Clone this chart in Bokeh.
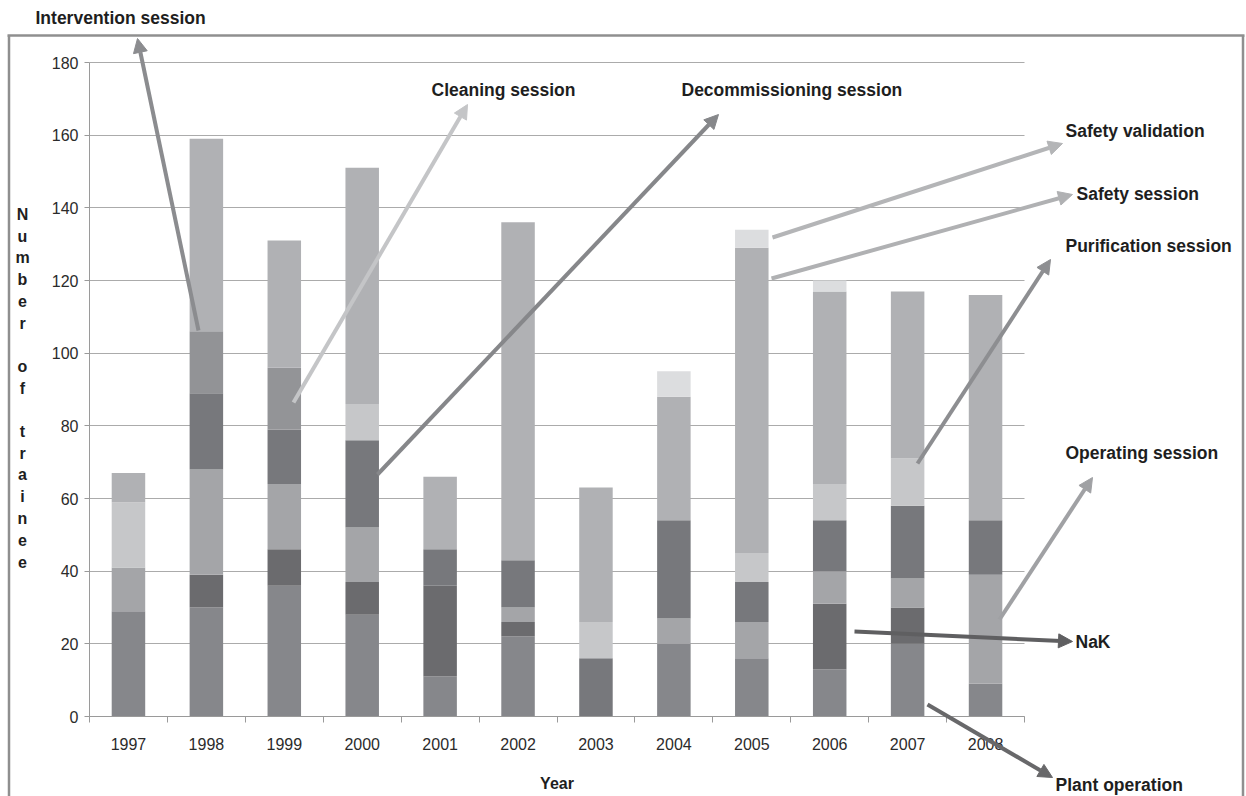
from bokeh.plotting import figure
from bokeh.models import (ColumnDataSource, Range1d, FixedTicker, Label, Arrow,
                          NormalHead, LinearAxis, Grid)
from bokeh.embed import file_html
from bokeh.resources import INLINE

# ---------------- data ----------------
years = ["1997", "1998", "1999", "2000", "2001", "2002",
         "2003", "2004", "2005", "2006", "2007", "2008"]
plant_operation = [29, 30, 36, 28, 11, 22, 0, 20, 16, 13, 20, 9]
nak = [0, 9, 10, 9, 25, 4, 0, 0, 0, 18, 10, 0]
operating_session = [12, 29, 18, 15, 0, 4, 0, 7, 10, 9, 8, 30]
decommissioning_session = [0, 21, 15, 24, 10, 13, 16, 27, 11, 14, 20, 15]
intervention_session = [0, 17, 0, 0, 0, 0, 0, 0, 0, 0, 0, 0]
cleaning_session = [0, 0, 17, 0, 0, 0, 0, 0, 0, 0, 0, 0]
purification_session = [18, 0, 0, 10, 0, 0, 10, 0, 8, 10, 13, 0]
safety_session = [8, 53, 35, 65, 20, 93, 37, 34, 84, 53, 46, 62]
safety_validation = [0, 0, 0, 0, 0, 0, 0, 7, 5, 3, 0, 0]

series_names = ["Plant operation", "NaK", "Operating session",
                "Decommissioning session", "Intervention session",
                "Cleaning session", "Purification session",
                "Safety session", "Safety validation"]
series_values = [plant_operation, nak, operating_session,
                 decommissioning_session, intervention_session,
                 cleaning_session, purification_session,
                 safety_session, safety_validation]
series_colors = ["#86878b", "#6b6b6e", "#a4a5a8", "#77787c", "#929396",
                 "#939497", "#c6c7c9", "#b0b1b4", "#dcdddf"]
y_ticks = [0, 20, 40, 60, 80, 100, 120, 140, 160, 180]
y_axis_letters = ["N", "u", "m", "b", "e", "r", "", "o", "f", "",
                  "t", "r", "a", "i", "n", "e", "e"]

# ---------------- layout ----------------
W, H = 1246, 796
FL, FR, FT, FB = 89, 1024, 62, 716          # bar area on the page (px)
XA, XB = 0.5, len(years) + 0.5              # category span
YA, YB = 0, 180                             # value span
SX = (XB - XA) / (FR - FL)                  # data per px
SY = (YB - YA) / (FB - FT)
X0, X1 = XA - FL * SX, XB + (W - FR) * SX   # canvas-wide ranges
Y0, Y1 = YA - (H - FB) * SY, YB + FT * SY
FONT = "Liberation Sans"
TXT = "#1e1e1e"
AX = "#9a9a9a"


def dx(px):
    return X0 + px * SX


def dy(py):
    return Y1 - py * SY


p = figure(width=W, height=H, x_range=Range1d(X0, X1), y_range=Range1d(Y0, Y1),
           output_backend="svg", toolbar_location=None, tools="", title=None,
           x_axis_location=None, y_axis_location=None, min_border=0)
p.outline_line_color = None
p.background_fill_color = "white"
p.border_fill_color = "white"
p.grid.visible = False

# gridlines limited to the bar area
gkw = dict(dimension=1, ticker=FixedTicker(ticks=y_ticks, minor_ticks=[]),
           grid_line_color="#ababab", grid_line_width=1)
if "cross_bounds" in Grid.properties():
    p.add_layout(Grid(cross_bounds=(XA, XB), **gkw))

data = {"x": list(range(1, len(years) + 1))}
for name, vals in zip(series_names, series_values):
    data[name] = vals
source = ColumnDataSource(data)
p.vbar_stack(series_names, x="x", width=0.43, source=source,
             fill_color=series_colors, line_color=None)

# axes
xa = LinearAxis(fixed_location=YA, bounds=(XA, XB))
xa.ticker = FixedTicker(ticks=list(range(1, len(years) + 1)),
                        minor_ticks=[i + 0.5 for i in range(len(years) + 1)])
xa.major_label_overrides = {i + 1: y for i, y in enumerate(years)}
xa.axis_line_color = AX
xa.major_tick_out = 0
xa.major_tick_in = 0
xa.minor_tick_out = 6
xa.minor_tick_in = 0
xa.minor_tick_line_color = AX
xa.major_label_standoff = 15
xa.major_label_text_font = FONT
xa.major_label_text_font_size = "16px"
xa.major_label_text_color = "#2b2b2b"
p.add_layout(xa, "below")

ya = LinearAxis(fixed_location=XA, bounds=(YA, YB))
ya.ticker = FixedTicker(ticks=y_ticks, minor_ticks=[])
ya.axis_line_color = AX
ya.major_tick_line_color = AX
ya.major_tick_out = 5
ya.major_tick_in = 0
ya.minor_tick_line_color = None
ya.major_label_standoff = 6
ya.major_label_text_font = FONT
ya.major_label_text_font_size = "16px"
ya.major_label_text_color = "#2b2b2b"
p.add_layout(ya, "left")

# outer frame of the figure (page px)
frame_lines = [((8.5, 35), (8.5, 800)), ((7, 35), (1244, 35)), ((1242.5, 35), (1242.5, 800))]
for (ax, ay), (bx, by) in frame_lines:
    p.add_layout(Arrow(x_start=dx(ax), y_start=dy(ay), x_end=dx(bx), y_end=dy(by),
                       end=None, line_color="#8f8f8f", line_width=2.5))

# callouts: text, text left px, text middle py, tail (px,py), head (px,py), colour
callouts = [
    ("Intervention session", 35, 17, (198, 330), (137, 38), "#8b8c8f"),
    ("Cleaning session", 431, 89, (293, 402), (467, 104), "#c4c5c7"),
    ("Decommissioning session", 681, 89, (377, 474), (718, 114), "#86878a"),
    ("Safety validation", 1065, 130, (772, 237), (1062, 143), "#b4b5b7"),
    ("Safety session", 1076, 193, (771, 278), (1072, 194), "#b0b1b3"),
    ("Purification session", 1065, 245, (917, 463), (1050, 259), "#8d8e91"),
    ("Operating session", 1065, 452, (999, 619), (1092, 477), "#a0a1a4"),
    ("NaK", 1075, 641, (854, 631), (1072, 641), "#5f5f61"),
    ("Plant operation", 1055, 784, (927, 704), (1052, 777), "#68686a"),
]
for text, tx, ty, (sx, sy), (ex, ey), col in callouts:
    p.add_layout(Arrow(x_start=dx(sx), y_start=dy(sy), x_end=dx(ex), y_end=dy(ey),
                       line_color=col, line_width=4,
                       end=NormalHead(size=14, fill_color=col, line_color=col)))
    p.add_layout(Label(x=dx(tx), y=dy(ty), text=text, text_font=FONT,
                       text_font_style="bold", text_font_size="17.5px",
                       text_color=TXT, text_align="left", text_baseline="middle"))

# axis titles
p.add_layout(Label(x=dx((FL + FR) / 2), y=dy(783), text="Year", text_font=FONT,
                   text_font_style="bold", text_font_size="16px", text_color=TXT,
                   text_align="center", text_baseline="middle"))
for i, ch in enumerate(y_axis_letters):
    if ch:
        p.add_layout(Label(x=dx(22), y=dy(214 + i * 21.7), text=ch, text_font=FONT,
                           text_font_style="bold", text_font_size="16px",
                           text_color=TXT, text_align="center",
                           text_baseline="middle"))

open("out.html", "w").write(file_html(p, INLINE))
